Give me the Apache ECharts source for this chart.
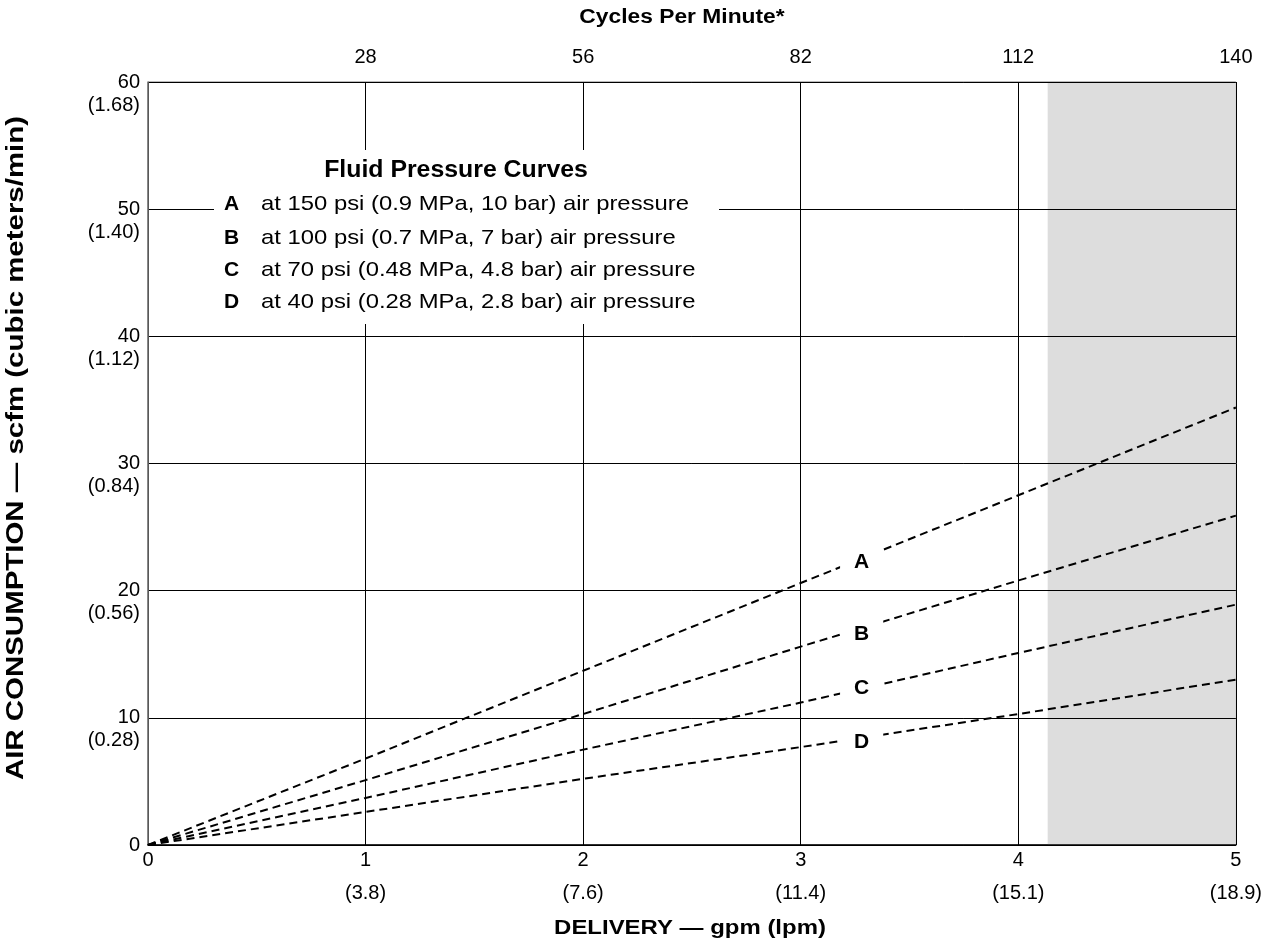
<!DOCTYPE html>
<html>
<head>
<meta charset="utf-8">
<script src="https://cdn.jsdelivr.net/npm/echarts@6/dist/echarts.min.js"></script>
<style>
html,body{margin:0;padding:0;background:#fff;}
#chart{width:1265px;height:945px;}
</style>
</head>
<body>
<div id="chart"></div>
<script>
// ---- data ----
const gpm = [0, 1, 2, 3, 4, 5];
const lpmLabels = ['', '(3.8)', '(7.6)', '(11.4)', '(15.1)', '(18.9)'];
const cpmLabels = ['', '28', '56', '82', '112', '140'];
const scfmTicks = [0, 10, 20, 30, 40, 50, 60];
const cmmLabels = ['', '(0.28)', '(0.56)', '(0.84)', '(1.12)', '(1.40)', '(1.68)'];
const curveA = [0, 6.8, 13.7, 20.6, 27.5, 34.4];
const curveB = [0, 5.1, 10.3, 15.6, 20.8, 25.9];
const curveC = [0, 3.7, 7.5, 11.2, 15.1, 18.9];
const curveD = [0, 2.6, 5.2, 7.7, 10.3, 13.0];
const curveNames = ['A', 'B', 'C', 'D'];
const curveLabelX = [3.28, 3.28, 3.28, 3.28];
const curveLabelY = [22.2, 16.6, 12.3, 8.1];
const shadedRange = [4.135, 5];
const legendTitle = 'Fluid Pressure Curves';
const legendTexts = [
  'at 150 psi (0.9 MPa, 10 bar) air pressure',
  'at 100 psi (0.7 MPa, 7 bar) air pressure',
  'at 70 psi (0.48 MPa, 4.8 bar) air pressure',
  'at 40 psi (0.28 MPa, 2.8 bar) air pressure'
];
const xTitle = 'DELIVERY \u2014 gpm (lpm)';
const yTitle = 'AIR CONSUMPTION \u2014 scfm (cubic meters/min)';
const topTitle = 'Cycles Per Minute*';

// ---- chart ----
const FONT = 'Liberation Sans, Arial, Helvetica, sans-serif';
const chart = echarts.init(document.getElementById('chart'), null, {renderer: 'canvas'});
const curves = [curveA, curveB, curveC, curveD];

const lineSeries = curves.map((c, i) => ({
  type: 'line',
  name: curveNames[i],
  xAxisIndex: 0, yAxisIndex: 0,
  data: gpm.map((x, j) => [x, c[j]]),
  showSymbol: false,
  symbol: 'none',
  silent: true,
  z: 3,
  lineStyle: {color: '#000', width: 2, type: [8, 5]}
}));

const legendRows = [204, 238, 270, 302];
const graphics = [
  {type: 'rect', shape: {x: 214, y: 150, width: 505, height: 174}, style: {fill: '#fff'}, z: 100},
  {type: 'text', x: 456, y: 171, scaleX: 1.08, z: 101, style: {text: legendTitle, font: 'bold 23px ' + FONT, fill: '#000', textAlign: 'center', textVerticalAlign: 'middle'}},
  {type: 'text', x: 690, y: 928, scaleX: 1.14, z: 101, style: {text: xTitle, font: 'bold 21px ' + FONT, fill: '#000', textAlign: 'center', textVerticalAlign: 'middle'}},
  {type: 'text', x: 682, y: 17, scaleX: 1.14, z: 101, style: {text: topTitle, font: 'bold 20px ' + FONT, fill: '#000', textAlign: 'center', textVerticalAlign: 'middle'}},
  {type: 'text', x: 17, y: 448, rotation: Math.PI / 2, scaleX: 1.28, z: 101, style: {text: yTitle, font: 'bold 23px ' + FONT, fill: '#000', textAlign: 'center', textVerticalAlign: 'middle'}}
];
curveNames.forEach((n, i) => {
  graphics.push({type: 'text', x: 224, y: legendRows[i], z: 101, style: {text: n, font: 'bold 21px ' + FONT, fill: '#000', textAlign: 'left', textVerticalAlign: 'middle'}});
  graphics.push({type: 'text', x: 261, y: legendRows[i], scaleX: 1.135, z: 101, style: {text: legendTexts[i], font: '21px ' + FONT, fill: '#000', textAlign: 'left', textVerticalAlign: 'middle'}});
});

const option = {
  backgroundColor: '#fff',
  animation: false,
  textStyle: {fontFamily: FONT},
  grid: {left: 148, right: 22, top: 82, bottom: 100, show: true, borderColor: '#777', borderWidth: 1, backgroundColor: '#fff'},
  xAxis: [
    {
      type: 'value', position: 'bottom', min: 0, max: 5, interval: 1, z: 2,
      axisLine: {show: true, onZero: false, lineStyle: {color: '#000', width: 1.5}},
      axisTick: {show: false},
      splitLine: {show: true, lineStyle: {color: '#000', width: 1}},
      axisLabel: {
        margin: 5, color: '#000', fontSize: 20, fontFamily: FONT,
        showMaxLabel: true, showMinLabel: true,
        formatter: v => {
          const i = gpm.indexOf(v);
          return '{a|' + v + '}\n{b|' + (lpmLabels[i] || ' ') + '}';
        },
        rich: {a: {fontSize: 20, lineHeight: 20, color: '#000'}, b: {fontSize: 20, lineHeight: 46, color: '#000'}}
      }
    },
    {
      type: 'value', position: 'top', min: 0, max: 5, interval: 1, z: 2,
      axisLine: {show: false}, axisTick: {show: false}, splitLine: {show: false},
      axisLabel: {
        margin: 15, color: '#000', fontSize: 20, fontFamily: FONT,
        formatter: v => cpmLabels[gpm.indexOf(v)] || ''
      }
    }
  ],
  yAxis: {
    type: 'value', min: 0, max: 60, interval: 10, z: 2,
    axisLine: {show: true, onZero: false, lineStyle: {color: '#777', width: 1.5}},
    axisTick: {show: false},
    splitLine: {show: true, lineStyle: {color: '#000', width: 1}},
    axisLabel: {
      margin: 8, color: '#000', fontSize: 20, fontFamily: FONT, align: 'right',
      lineHeight: 23,
      formatter: v => {
        const i = scfmTicks.indexOf(v);
        return ' \n' + v + '\n' + (cmmLabels[i] || ' ');
      }
    }
  },
  series: [
    {
      type: 'line', data: [], z: 1, silent: true,
      markArea: {
        silent: true,
        itemStyle: {color: '#dddddd', opacity: 1},
        data: [[{xAxis: shadedRange[0]}, {xAxis: shadedRange[1]}]]
      }
    },
    ...lineSeries,
    {
      type: 'scatter', z: 5, silent: true,
      symbol: 'rect', symbolSize: 1, itemStyle: {color: '#fff', opacity: 1},
      data: curveNames.map((n, i) => ({value: [curveLabelX[i], curveLabelY[i]], name: n})),
      label: {
        show: true, position: 'inside', formatter: p => p.name,
        color: '#000', fontWeight: 'bold', fontSize: 21, fontFamily: FONT,
        backgroundColor: '#fff', padding: [4, 14]
      },
      emphasis: {disabled: true}
    }
  ],
  graphic: graphics
};
chart.setOption(option);
</script>
</body>
</html>
